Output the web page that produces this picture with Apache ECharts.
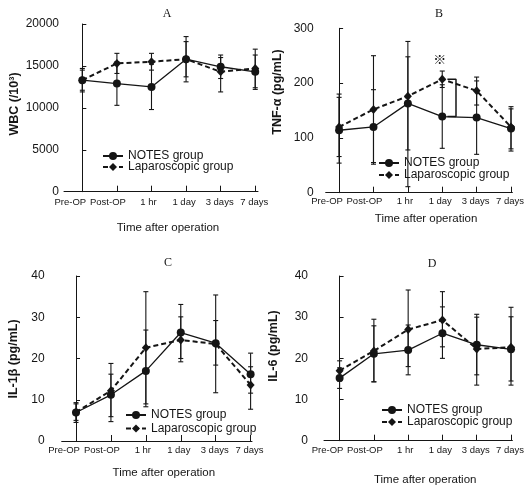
<!DOCTYPE html>
<html>
<head>
<meta charset="utf-8">
<script src="https://cdn.jsdelivr.net/npm/echarts@6/dist/echarts.min.js"></script>
<style>
  html, body { margin: 0; padding: 0; background: #fff; }
  #chart { width: 527px; height: 493px; }
</style>
</head>
<body>
<div id="chart"></div>
<script>
// time points
var categories = ['Pre-OP', 'Post-OP', '1 hr', '1 day', '3 days', '7 days'];
var groups = ['NOTES group', 'Laparoscopic group'];

// A - WBC (/10^3)
var wbcNotes     = [13300, 12900, 12500, 15800, 14900, 14300];
var wbcNotesLow  = [11900, 10300,  9800, 13100, 13500, 12200];
var wbcNotesHigh = [14700, 15500, 15200, 18500, 16000, 16300];
var wbcLap       = [13300, 15300, 15500, 15800, 14300, 14700];
var wbcLapLow    = [12100, 14100, 14500, 13700, 11900, 12400];
var wbcLapHigh   = [14500, 16500, 16500, 17900, 16300, 17000];

// B - TNF-alpha (pg/mL)
var tnfNotes     = [114, 120, 163, 139, 137, 117];
var tnfNotesLow  = [ 54,  52,  11,  81,  70,  76];
var tnfNotesHigh = [174, 188, 248, 197, 204, 157];
var tnfLap       = [120, 152, 176, 207, 186, 120];
var tnfLapLow    = [ 66,  55,  78, 192, 160,  80];
var tnfLapHigh   = [180, 250, 276, 222, 211, 153];

// C - IL-1beta (pg/mL)
var il1Notes     = [6.9, 11.2, 17.0, 26.3, 23.7, 16.2];
var il1NotesLow  = [4.5,  5.9,  8.3, 19.2, 11.7, 11.6];
var il1NotesHigh = [9.3, 16.2, 26.9, 33.1, 35.4, 21.3];
var il1Lap       = [7.0, 12.2, 22.6, 24.5, 23.5, 13.6];
var il1LapLow    = [5.0,  4.7,  9.0, 20.0, 18.4,  7.7];
var il1LapHigh   = [9.0, 18.8, 36.2, 30.1, 29.2, 18.0];

// D - IL-6 (pg/mL)
var il6Notes     = [15.2, 21.1, 22.0, 26.1, 23.3, 22.2];
var il6NotesLow  = [12.7, 14.3, 16.0, 20.0, 16.0, 14.5];
var il6NotesHigh = [17.7, 27.9, 28.1, 32.5, 30.7, 30.1];
var il6Lap       = [17.0, 21.8, 27.0, 29.3, 22.3, 22.7];
var il6LapLow    = [14.5, 14.3, 18.0, 22.8, 13.5, 13.5];
var il6LapHigh   = [19.4, 29.5, 36.6, 36.2, 30.0, 32.4];

var FONT = '"Liberation Sans", Arial, sans-serif';
var INK = '#151515';

var chart = echarts.init(document.getElementById('chart'));

var option = {
    animation: false,
    backgroundColor: '#fff',
    grid: [],
    xAxis: [],
    yAxis: [],
    legend: [],
    series: [],
    graphic: []
};

function pairs(vals) {
    return vals.map(function (v, i) { return [i, v]; });
}

function bars(low, high) {
    return low.map(function (v, i) { return [i, v, high[i]]; });
}

function renderErr(params, api) {
    var x = api.value(0);
    var pLo = api.coord([x, api.value(1)]);
    var pHi = api.coord([x, api.value(2)]);
    var w = 2.5;
    var st = { stroke: INK, lineWidth: 1.1 };
    return {
        type: 'group',
        children: [
            { type: 'line', shape: { x1: pLo[0], y1: pLo[1], x2: pHi[0], y2: pHi[1] }, style: st },
            { type: 'line', shape: { x1: pLo[0] - w, y1: pLo[1], x2: pLo[0] + w, y2: pLo[1] }, style: st },
            { type: 'line', shape: { x1: pHi[0] - w, y1: pHi[1], x2: pHi[0] + w, y2: pHi[1] }, style: st }
        ]
    };
}

// left shift of each time label under its tick (as typeset in the figure)
var labelRich = {};
[24, 18, 6, 4, 2, 2].forEach(function (p, i) {
    labelRich['s' + i] = { fontSize: 9.5, fontFamily: FONT, color: INK, padding: [0, p, 0, 0] };
});

function addPanel(k, p) {
    option.grid.push({ left: p.box[0], top: p.box[1], width: p.box[2], height: p.box[3] });
    option.xAxis.push({
        type: 'value', gridIndex: k, min: p.xr[0], max: p.xr[1],
        name: 'Time after operation', nameLocation: 'middle', nameGap: p.nameGap,
        nameTextStyle: { fontSize: 11.5, fontFamily: FONT, color: INK, padding: [0, 0, 0, 14] },
        axisLine: { lineStyle: { color: INK, width: 1 } },
        axisTick: { inside: true, length: 6, customValues: [0, 1, 2, 3, 4, 5], lineStyle: { color: INK } },
        axisLabel: {
            customValues: [0, 1, 2, 3, 4, 5], margin: p.xMargin,
            formatter: function (v) {
                var i = Math.round(v);
                return '{s' + i + '|' + categories[i] + '}';
            },
            rich: labelRich
        },
        splitLine: { show: false }
    });
    option.yAxis.push({
        type: 'value', gridIndex: k, min: 0, max: p.ymax, interval: p.interval,
        axisLine: { show: true, lineStyle: { color: INK, width: 1 } },
        axisTick: { show: true, inside: true, length: 4, lineStyle: { color: INK } },
        axisLabel: {
            fontSize: 12, fontFamily: FONT, color: INK, margin: p.yMargin,
            formatter: function (v) { return String(v); }
        },
        splitLine: { show: false }
    });
    option.series.push(
        { type: 'custom', xAxisIndex: k, yAxisIndex: k, renderItem: renderErr, data: bars(p.nLow, p.nHigh), encode: { x: 0, y: [1, 2] }, z: 1, silent: true },
        { type: 'custom', xAxisIndex: k, yAxisIndex: k, renderItem: renderErr, data: bars(p.lLow, p.lHigh), encode: { x: 0, y: [1, 2] }, z: 1, silent: true },
        {
            name: groups[0], type: 'line', xAxisIndex: k, yAxisIndex: k, data: pairs(p.notes),
            symbol: 'circle', symbolSize: 8, z: 3,
            lineStyle: { color: INK, width: 1.3, type: 'solid' },
            itemStyle: { color: INK }
        },
        {
            name: groups[1], type: 'line', xAxisIndex: k, yAxisIndex: k, data: pairs(p.lap),
            symbol: 'diamond', symbolSize: [8, 9], z: 4,
            lineStyle: { color: INK, width: 2, type: [5, 3] },
            itemStyle: { color: INK }
        }
    );
    option.legend.push({
        data: groups, orient: 'vertical', left: p.legend[0], top: p.legend[1],
        padding: 0, itemGap: p.legend[2], itemWidth: 20, itemHeight: 10, selectedMode: false,
        textStyle: { fontSize: 12, fontFamily: FONT, color: INK }
    });
    option.graphic.push(
        {
            type: 'text', x: p.title[0], y: p.title[1],
            style: { text: p.letter, align: 'center', verticalAlign: 'middle', fontSize: 12, fontFamily: '"Liberation Serif", serif', fill: INK }
        },
        {
            type: 'text', x: p.yName[0], y: p.yName[1], rotation: Math.PI / 2,
            style: { text: p.yText, align: 'center', verticalAlign: 'middle', fontSize: 12.5, fontWeight: 'bold', fontFamily: FONT, fill: INK }
        }
    );
}

addPanel(0, {
    letter: 'A', title: [167, 14], yText: 'WBC (/10\u00b3)', yName: [15, 104],
    box: [64, 24, 194, 167.7], xr: [-0.53, 5.08], ymax: 20000, interval: 5000,
    yMargin: 5, xMargin: 6, nameGap: 30, legend: [102, 150, -1],
    notes: wbcNotes, nLow: wbcNotesLow, nHigh: wbcNotesHigh,
    lap: wbcLap, lLow: wbcLapLow, lHigh: wbcLapHigh
});
addPanel(1, {
    letter: 'B', title: [439, 14], yText: 'TNF-\u03b1 (pg/mL)', yName: [278, 92],
    box: [325.7, 28.3, 188, 164.4], xr: [-0.39, 5.04], ymax: 300, interval: 100,
    yMargin: 12, xMargin: 4, nameGap: 20, legend: [378, 157, 0],
    notes: tnfNotes, nLow: tnfNotesLow, nHigh: tnfNotesHigh,
    lap: tnfLap, lLow: tnfLapLow, lHigh: tnfLapHigh
});
addPanel(2, {
    letter: 'C', title: [168, 263], yText: 'IL-1\u03b2 (pg/mL)', yName: [14, 359],
    box: [61.7, 276, 190.3, 165], xr: [-0.41, 5.04], ymax: 40, interval: 10,
    yMargin: 17, xMargin: 4, nameGap: 26, legend: [125, 409, 1.5],
    notes: il1Notes, nLow: il1NotesLow, nHigh: il1NotesHigh,
    lap: il1Lap, lLow: il1LapLow, lHigh: il1LapHigh
});
addPanel(3, {
    letter: 'D', title: [432, 264], yText: 'IL-6 (pg/mL)', yName: [274, 346],
    box: [324, 276, 189.7, 164.7], xr: [-0.455, 5.04], ymax: 40, interval: 10,
    yMargin: 16, xMargin: 5, nameGap: 33, legend: [381, 404, 0],
    notes: il6Notes, nLow: il6NotesLow, nHigh: il6NotesHigh,
    lap: il6Lap, lLow: il6LapLow, lHigh: il6LapHigh
});

// significance bracket between the two groups at 1 day (panel B)
option.series.push({
    type: 'line', xAxisIndex: 1, yAxisIndex: 1, symbol: 'none', silent: true, z: 2,
    lineStyle: { color: INK, width: 1.5 },
    data: [[3.15, tnfLap[3]], [3.4, tnfLap[3]], [3.4, tnfNotes[3]], [3.15, tnfNotes[3]]],
    markPoint: {
        symbol: 'circle', symbolSize: 1, itemStyle: { color: 'rgba(0,0,0,0)' },
        label: { show: true, formatter: '\u203b', fontSize: 13, color: INK, fontFamily: '"Noto Sans CJK JP", sans-serif' },
        data: [{ coord: [2.93, 244] }]
    }
});

chart.setOption(option);
</script>
</body>
</html>
